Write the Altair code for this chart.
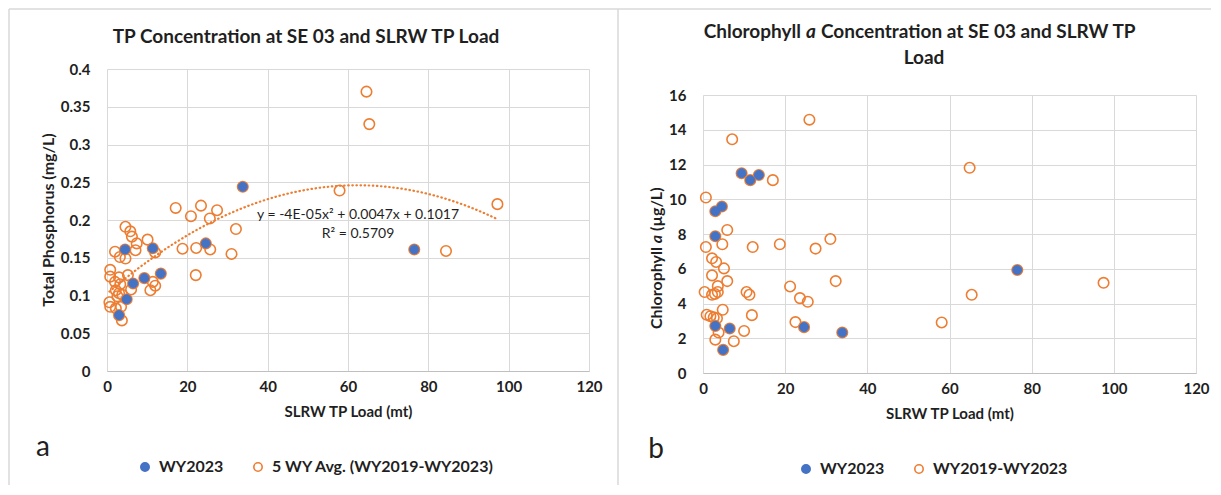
import altair as alt
import pandas as pd

FONT = "Lato"
ORANGE = "#ED7D31"
BLUE = "#4472C4"
GRID = "#D9D9D9"
TEXT = "#1F1F1F"

# ---------------- data: panel a (TP concentration, mg/L) ----------------
tp_wy2023_load = [33.8, 4.5, 11.4, 24.6, 13.4, 9.3, 6.5, 4.9, 3.0, 76.5]
tp_wy2023_conc = [0.244, 0.161, 0.1625, 0.169, 0.129, 0.123, 0.116, 0.095, 0.074, 0.161]

tp_5wy_load = [17.1, 23.4, 20.9, 27.4, 25.6, 32.1, 31.0, 18.8, 22.2, 25.7, 22.1,
               4.6, 5.8, 6.2, 7.4, 7.1, 10.1, 12.0, 2.0, 3.2, 4.6, 0.8, 0.8, 3.0,
               5.2, 2.0, 3.3, 11.4, 12.0, 10.8, 6.0, 2.2, 3.0, 2.6, 3.8, 0.6, 0.8,
               2.2, 3.5, 3.7, 64.6, 65.3, 57.9, 97.2, 84.4]
tp_5wy_conc = [0.216, 0.219, 0.205, 0.213, 0.202, 0.188, 0.155, 0.162, 0.163, 0.161, 0.127,
               0.191, 0.185, 0.178, 0.169, 0.160, 0.174, 0.157, 0.158, 0.151, 0.149, 0.134, 0.125, 0.124,
               0.127, 0.118, 0.115, 0.118, 0.113, 0.107, 0.108, 0.107, 0.103, 0.099, 0.101, 0.091, 0.085,
               0.083, 0.085, 0.067, 0.370, 0.327, 0.239, 0.221, 0.159]

# ---------------- data: panel b (chlorophyll a, ug/L) ----------------
chl_wy2023_load = [9.4, 11.5, 13.6, 4.6, 3.0, 3.0, 3.0, 6.5, 4.9, 24.6, 33.9, 76.5]
chl_wy2023_conc = [11.5, 11.1, 11.4, 9.58, 9.31, 7.87, 2.71, 2.56, 1.33, 2.64, 2.33, 5.93]

chl_5wy_load = [25.9, 7.1, 17.0, 0.7, 5.9, 0.7, 4.7, 12.1, 18.7, 27.4, 31.0, 2.2, 3.2, 5.1,
                2.2, 5.9, 3.6, 32.3, 21.2, 0.4, 2.2, 2.9, 3.6, 10.6, 11.3, 23.6, 25.5, 4.8,
                0.9, 1.8, 2.6, 3.4, 11.9, 22.5, 3.8, 10.0, 3.0, 7.5, 64.9, 97.5, 65.4, 58.1]
chl_5wy_conc = [14.58, 13.45, 11.1, 10.1, 8.23, 7.25, 7.41, 7.25, 7.41, 7.16, 7.71, 6.6, 6.39, 6.02,
                5.62, 5.29, 5.0, 5.29, 4.98, 4.66, 4.5, 4.55, 4.66, 4.66, 4.5, 4.31, 4.1, 3.64,
                3.35, 3.27, 3.2, 3.15, 3.33, 2.93, 2.33, 2.42, 1.92, 1.83, 11.81, 5.19, 4.5, 2.91]

x_ticks = [0, 20, 40, 60, 80, 100, 120]
tp_ticks = [0, 0.05, 0.1, 0.15, 0.2, 0.25, 0.3, 0.35, 0.4]
chl_ticks = [0, 2, 4, 6, 8, 10, 12, 14, 16]

series_a = ["WY2023", "5 WY Avg. (WY2019-WY2023)"]
series_b = ["WY2023", "WY2019-WY2023"]

trend_label = "y = -4E-05x\u00b2 + 0.0047x + 0.1017"
r2_label = "R\u00b2 = 0.5709"

# ---------------- helpers ----------------
one = pd.DataFrame({"k": [0]})


def txt(text, x, y, size, weight="bold", style="normal", align="center", angle=0):
    return alt.Chart(pd.DataFrame({"t": [text]})).mark_text(
        font=FONT, fontSize=size, fontWeight=weight, fontStyle=style,
        align=align, baseline="middle", angle=angle, color=TEXT
    ).encode(x=alt.value(x), y=alt.value(y), text="t:N")


def rule(x, x2, y, y2=None):
    enc = dict(x=alt.value(x), y=alt.value(y))
    if x2 is not None:
        enc["x2"] = alt.value(x2)
    if y2 is not None:
        enc["y2"] = alt.value(y2)
    return alt.Chart(one).mark_rule(color=GRID, strokeWidth=1.5).encode(**enc)


def scatter(avg_df, wy_df, series, y_domain, y_ticks, y_format, legend_x, legend_y):
    x = alt.X("load:Q", scale=alt.Scale(domain=[0, 120], nice=False, zero=False),
              axis=alt.Axis(values=x_ticks, format="d", title="SLRW TP Load (mt)",
                            titleFont=FONT, titleFontSize=15, titleFontWeight="bold",
                            titleColor=TEXT, titlePadding=10,
                            labelPadding=8, ticks=False, domainColor="#BFBFBF",
                            gridColor=GRID, labelFlush=False, labelOverlap=False))
    y = alt.Y("value:Q", scale=alt.Scale(domain=y_domain, nice=False, zero=True),
              axis=alt.Axis(values=y_ticks, format=y_format, title=None, labelPadding=17,
                            ticks=False, domain=False, gridColor=GRID, labelFlush=False,
                            labelOverlap=False))
    legend = alt.Legend(orient="none", legendX=legend_x, legendY=legend_y,
                        direction="horizontal", title=None, symbolType="circle",
                        symbolSize=70, symbolStrokeWidth=1.6, labelFont=FONT,
                        labelFontSize=16, labelFontWeight="bold", labelColor=TEXT,
                        labelOffset=6, columnPadding=26, labelLimit=400, padding=0)
    fill = alt.Fill("series:N", scale=alt.Scale(domain=series, range=[BLUE, "transparent"]),
                    legend=legend)
    stroke = alt.Stroke("series:N", scale=alt.Scale(domain=series, range=[BLUE, ORANGE]),
                        legend=legend)
    rings = alt.Chart(avg_df).mark_point(shape="circle", filled=True, size=110,
                                         strokeWidth=1.6, opacity=1).encode(
        x=x, y=y, fill=fill, stroke=stroke)
    dots = alt.Chart(wy_df).mark_point(shape="circle", filled=True, size=82,
                                       strokeWidth=1, opacity=1).encode(
        x=x, y=y, fill=fill, stroke=stroke)
    return rings, dots, x, y


# ---------------- panel a ----------------
tp_avg = pd.DataFrame({"load": tp_5wy_load + tp_wy2023_load,
                       "value": tp_5wy_conc + tp_wy2023_conc,
                       "series": series_a[1]})
tp_wy = pd.DataFrame({"load": tp_wy2023_load, "value": tp_wy2023_conc,
                      "series": series_a[0]})

WA, HA = 482, 302
rings_a, dots_a, xa, ya = scatter(tp_avg, tp_wy, series_a, [0, 0.4], tp_ticks, "~g", 30, 390)

trend = alt.Chart(tp_avg).transform_regression(
    "load", "value", method="poly", order=2
).mark_line(color=ORANGE, strokeWidth=2.2, strokeDash=[0.5, 3.6], strokeCap="round").encode(
    x=xa, y=ya)

left = alt.layer(
    rule(-98, 1104, -60),
    rule(-98, None, -60, 416),
    rule(511, None, -60, 416),
    rings_a, dots_a, trend,
    txt(trend_label, 251, 146, 14, weight="normal"),
    txt(r2_label, 251, 165, 14, weight="normal"),
    txt("TP Concentration at SE 03 and SLRW TP Load", 199, -32, 19),
    txt("Total Phosphorus  (mg/L)", -58, HA / 2, 16, angle=270),
    txt("a", -64, 379, 28, weight="normal"),
).properties(width=WA, height=HA)

# ---------------- panel b ----------------
chl_avg = pd.DataFrame({"load": chl_5wy_load + chl_wy2023_load,
                        "value": chl_5wy_conc + chl_wy2023_conc,
                        "series": series_b[1]})
chl_wy = pd.DataFrame({"load": chl_wy2023_load, "value": chl_wy2023_conc,
                       "series": series_b[0]})

WB, HB = 493, 278
rings_b, dots_b, xb, yb = scatter(chl_avg, chl_wy, series_b, [0, 16], chl_ticks, "d", 95, 392)

right = alt.layer(
    rings_b, dots_b,
    txt("Chlorophyll", 98, -63, 19, align="right"),
    txt("a", 108, -63, 19, style="italic"),
    txt("Concentration at SE 03 and SLRW TP", 118, -63, 19, align="left"),
    txt("Load", 221, -37, 19),
    txt("Chlorophyll", -46, 152, 16, align="right", angle=270),
    txt("a", -46, 144, 16, style="italic", angle=270),
    txt("(\u00b5g/L)", -46, 136, 16, align="left", angle=270),
    txt("b", -47, 355, 28, weight="normal"),
).properties(width=WB, height=HB)

spacer = alt.Chart(one).mark_point(opacity=0).encode(
    x=alt.value(0), y=alt.value(0)).properties(width=WB, height=26)

right_col = alt.vconcat(spacer, right, spacing=0, bounds="flush")

chart = alt.hconcat(left, right_col, spacing=114, bounds="flush").resolve_scale(
    fill="independent", stroke="independent"
).properties(padding=0, background="white").configure_view(stroke=None).configure_axis(
    labelFont=FONT, labelFontSize=15, labelFontWeight="bold", labelColor=TEXT,
    grid=True
)

chart.save("out.html", embed_options={"renderer": "svg", "actions": False})
